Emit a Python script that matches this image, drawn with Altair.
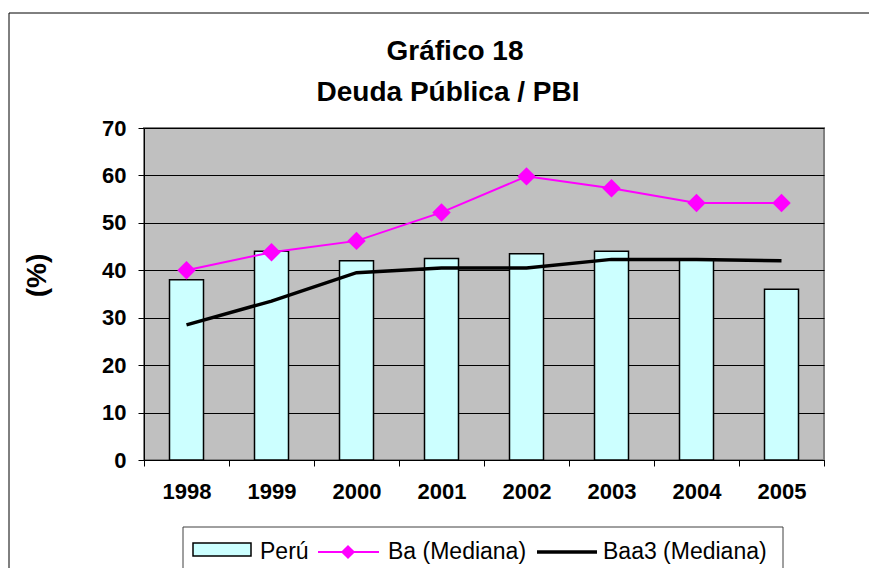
import altair as alt
import pandas as pd

years = ["1998", "1999", "2000", "2001", "2002", "2003", "2004", "2005"]
peru = [38.0, 44.0, 42.0, 42.5, 43.5, 44.0, 42.3, 36.0]
ba = [40.0, 43.8, 46.2, 52.2, 59.8, 57.3, 54.2, 54.2]
baa3 = [28.5, 33.5, 39.5, 40.5, 40.5, 42.3, 42.3, 42.0]

series = ["Perú", "Ba (Mediana)", "Baa3 (Mediana)"]
title_lines = ["Gráfico 18", "Deuda Pública / PBI"]
y_ticks = [0, 10, 20, 30, 40, 50, 60, 70]

df_peru = pd.DataFrame({"year": years, "value": peru, "series": series[0]})
df_ba = pd.DataFrame({"year": years, "value": ba, "series": series[1]})
df_baa3 = pd.DataFrame({"year": years, "value": baa3, "series": series[2]})

FONT = "Liberation Sans"
CYAN = "#CCFFFF"
MAGENTA = "#FF00FF"

x_enc = alt.X(
    "year:N",
    sort=years,
    title=None,
    scale=alt.Scale(paddingInner=0, paddingOuter=0),
    axis=alt.Axis(
        labelAngle=0,
        labelFont=FONT,
        labelFontSize=22,
        labelFontWeight="bold",
        labelColor="#000000",
        labelPadding=15,
        tickBand="extent",
        tickSize=6,
        tickColor="#000000",
        domainColor="#000000",
        grid=False,
    ),
)
y_enc = alt.Y(
    "value:Q",
    title="(%)",
    scale=alt.Scale(domain=[0, 70]),
    axis=alt.Axis(
        values=y_ticks,
        labelFont=FONT,
        labelFontSize=22,
        labelFontWeight="bold",
        labelColor="#000000",
        labelPadding=12,
        tickSize=6,
        tickColor="#000000",
        domainColor="#000000",
        gridColor="#000000",
        gridWidth=1,
        titleFont=FONT,
        titleFontSize=28,
        titleFontWeight="bold",
        titleColor="#000000",
        titlePadding=50,
        titleY=147,
    ),
)

bars = alt.Chart(df_peru).mark_bar(
    size=34, fill=CYAN, stroke="#000000", strokeWidth=1.5
).encode(x=x_enc, y=y_enc)

ba_line = alt.Chart(df_ba).mark_line(color=MAGENTA, strokeWidth=2).encode(
    x=alt.X("year:N", sort=years), y="value:Q"
)
ba_pts = alt.Chart(df_ba).mark_point(
    shape="diamond", filled=True, size=340, color=MAGENTA, opacity=1
).encode(x=alt.X("year:N", sort=years), y="value:Q")
baa3_line = alt.Chart(df_baa3).mark_line(color="#000000", strokeWidth=3.5).encode(
    x=alt.X("year:N", sort=years), y="value:Q"
)

one = alt.Data(values=[{"a": 1}])

# outer chart border
frame = alt.Chart(one).mark_rect(fill=None, stroke="#000000", strokeWidth=1).encode(
    x=alt.value(-135), x2=alt.value(726), y=alt.value(-115), y2=alt.value(470)
)

# title (two lines)
title1 = alt.Chart(alt.Data(values=[{"t": title_lines[0]}])).mark_text(
    font=FONT, fontSize=28, fontWeight="bold", color="#000000", align="center", baseline="alphabetic"
).encode(x=alt.value(311), y=alt.value(-68), text="t:N")
title2 = alt.Chart(alt.Data(values=[{"t": title_lines[1]}])).mark_text(
    font=FONT, fontSize=28, fontWeight="bold", color="#000000", align="center", baseline="alphabetic"
).encode(x=alt.value(304), y=alt.value(-27), text="t:N")

# legend
leg_box = alt.Chart(one).mark_rect(fill="#FFFFFF", stroke="#404040", strokeWidth=1).encode(
    x=alt.value(39), x2=alt.value(639), y=alt.value(399), y2=alt.value(445)
)
leg_peru_sym = alt.Chart(one).mark_rect(fill=CYAN, stroke="#000000", strokeWidth=1.5).encode(
    x=alt.value(49), x2=alt.value(107), y=alt.value(415), y2=alt.value(428)
)
leg_ba_line = alt.Chart(one).mark_rule(color=MAGENTA, strokeWidth=2).encode(
    x=alt.value(174), x2=alt.value(235), y=alt.value(424)
)
leg_ba_pt = alt.Chart(one).mark_point(
    shape="diamond", filled=True, size=200, color=MAGENTA, opacity=1
).encode(x=alt.value(204), y=alt.value(424))
leg_baa3_line = alt.Chart(one).mark_rule(color="#000000", strokeWidth=3.5).encode(
    x=alt.value(393), x2=alt.value(453), y=alt.value(424)
)


def leg_text(label, xpos):
    return alt.Chart(alt.Data(values=[{"t": label}])).mark_text(
        font=FONT, fontSize=23, color="#000000", align="left", baseline="alphabetic"
    ).encode(x=alt.value(xpos), y=alt.value(431), text="t:N")


chart = (
    alt.layer(
        frame,
        bars,
        baa3_line,
        ba_line,
        ba_pts,
        title1,
        title2,
        leg_box,
        leg_peru_sym,
        leg_ba_line,
        leg_ba_pt,
        leg_baa3_line,
        leg_text(series[0], 116),
        leg_text(series[1], 244),
        leg_text(series[2], 459),
    )
    .properties(
        width=680,
        height=332,
        autosize=alt.AutoSizeParams(type="none"),
        padding={"left": 136, "top": 120, "right": 45, "bottom": 108},
    )
    .configure_view(fill="#C0C0C0", stroke="#808080", strokeWidth=2)
)

chart.save("out.html", embed_options={"renderer": "svg", "actions": False})
